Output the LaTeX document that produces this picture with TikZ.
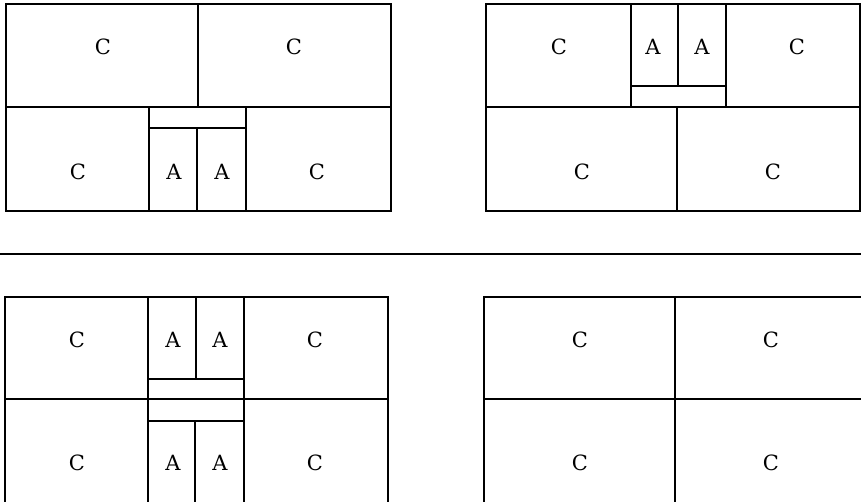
\documentclass[tikz,border=0pt]{standalone}
\usepackage{fontspec}
\newfontfamily\lblfont{DejaVu Serif}
\begin{document}
\begin{tikzpicture}[x=1pt,y=-1pt,
  wall/.style={line width=1.3pt,black},
  lbl/.style={font=\lblfont\fontsize{21}{25}\selectfont,inner sep=0pt}]
\useasboundingbox (0,0) rectangle (861,501);
% separator
\draw[wall] (0,254) -- (861,254);
% Panel 1 (top-left)
\draw[wall] (6,4) rectangle (391,211);
\draw[wall] (6,107) -- (391,107);
\draw[wall] (198,4) -- (198,107);
\draw[wall] (149,107) -- (149,211);
\draw[wall] (246,107) -- (246,211);
\draw[wall] (149,128) -- (246,128);
\draw[wall] (197,128) -- (197,211);
\node[lbl] (p1a) at (103,47) {C};
\node[lbl] (p1b) at (294,47) {C};
\node[lbl] (p1c) at (78,172) {C};
\node[lbl] (p1d) at (174,172) {A};
\node[lbl] (p1e) at (222,172) {A};
\node[lbl] (p1f) at (317,172) {C};
% Panel 2 (top-right)
\draw[wall] (486,4) rectangle (860,211);
\draw[wall] (486,107) -- (860,107);
\draw[wall] (631,4) -- (631,107);
\draw[wall] (726,4) -- (726,107);
\draw[wall] (631,86) -- (726,86);
\draw[wall] (678,4) -- (678,86);
\draw[wall] (677,107) -- (677,211);
\node[lbl] (p2a) at (559,47) {C};
\node[lbl] (p2b) at (653,47) {A};
\node[lbl] (p2c) at (702,47) {A};
\node[lbl] (p2d) at (797,47) {C};
\node[lbl] (p2e) at (582,172) {C};
\node[lbl] (p2f) at (773,172) {C};
% Panel 3 (bottom-left)
\draw[wall] (5,505) -- (5,297) -- (388,297) -- (388,505);
\draw[wall] (5,399) -- (388,399);
\draw[wall] (148,297) -- (148,505);
\draw[wall] (244,297) -- (244,505);
\draw[wall] (148,379) -- (244,379);
\draw[wall] (148,421) -- (244,421);
\draw[wall] (196,297) -- (196,379);
\draw[wall] (195,421) -- (195,505);
\node[lbl] (p3a) at (77,340) {C};
\node[lbl] (p3b) at (173,340) {A};
\node[lbl] (p3c) at (220,340) {A};
\node[lbl] (p3d) at (315,340) {C};
\node[lbl] (p3e) at (77,463) {C};
\node[lbl] (p3f) at (173,463) {A};
\node[lbl] (p3g) at (220,463) {A};
\node[lbl] (p3h) at (315,463) {C};
% Panel 4 (bottom-right)
\draw[wall] (484,505) -- (484,297) -- (865,297);
\draw[wall] (484,399) -- (865,399);
\draw[wall] (675,297) -- (675,505);
\node[lbl] (p4a) at (580,340) {C};
\node[lbl] (p4b) at (771,340) {C};
\node[lbl] (p4c) at (580,463) {C};
\node[lbl] (p4d) at (771,463) {C};
\end{tikzpicture}
\end{document}
